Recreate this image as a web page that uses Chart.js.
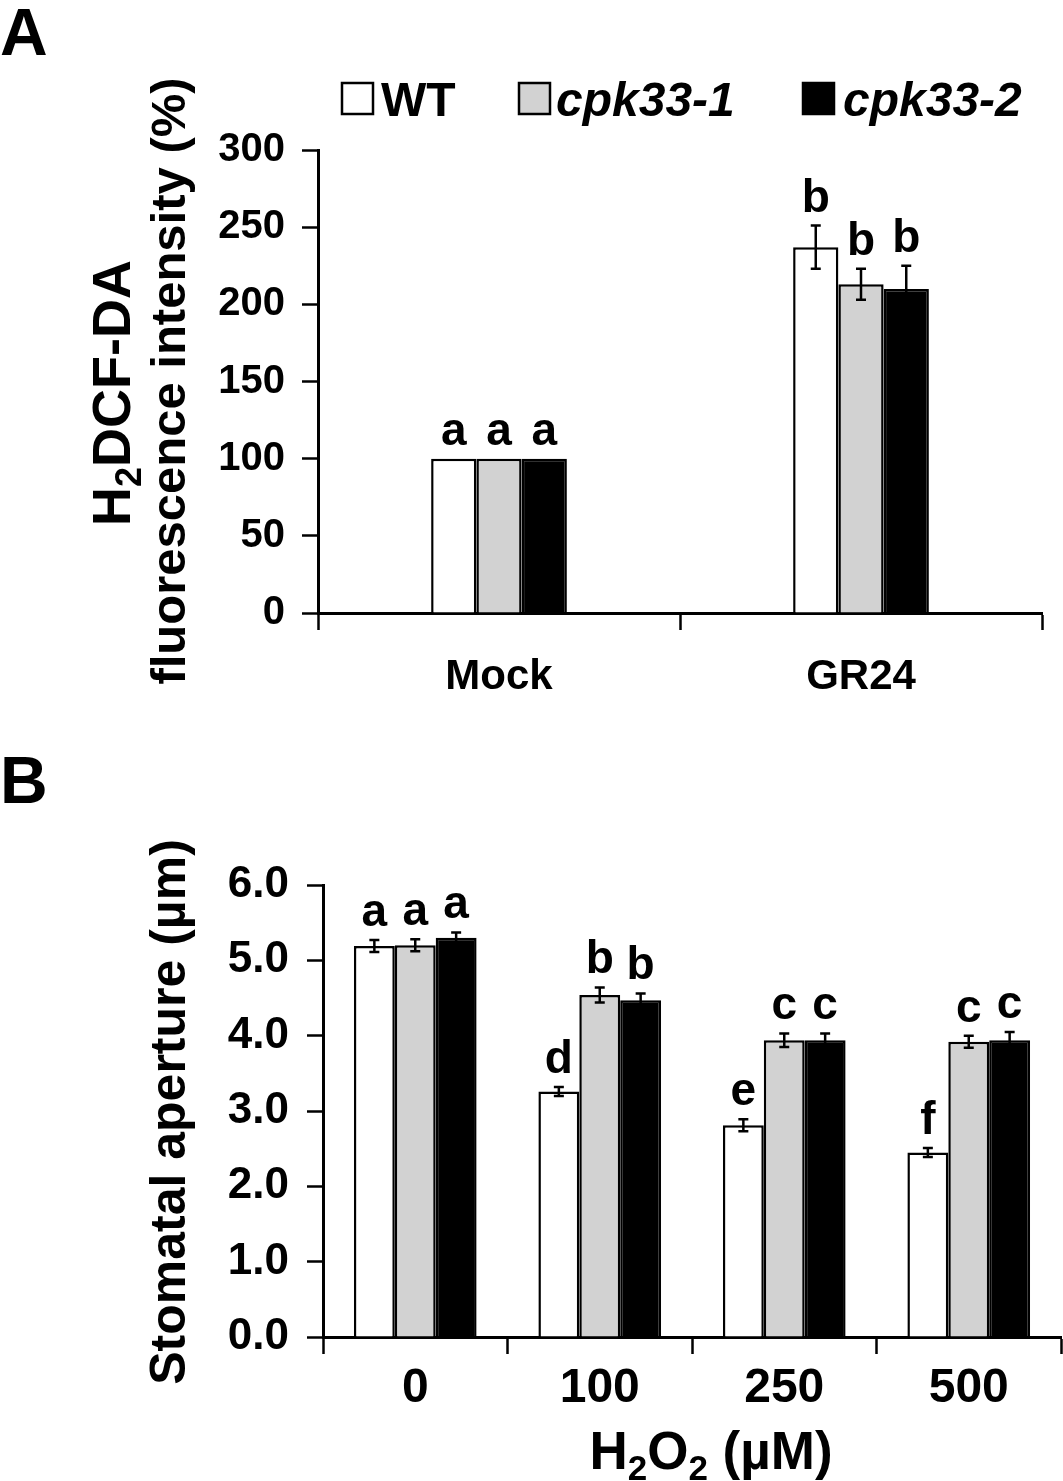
<!DOCTYPE html>
<html>
<head>
<meta charset="utf-8">
<script src="https://cdn.jsdelivr.net/npm/chart.js@4.4.1/dist/chart.umd.min.js"></script>
<style>
  html, body { margin: 0; padding: 0; background: #fff; }
  #wrap { position: relative; width: 1063px; height: 1481px; }
  canvas { position: absolute; left: 0; }
  #chartA { top: 0; }
  #chartB { top: 740px; }
</style>
</head>
<body>
<div id="wrap">
  <canvas id="chartA" width="1063" height="740"></canvas>
  <canvas id="chartB" width="1063" height="741"></canvas>
</div>
<script>
const FONT = "'Liberation Sans', Arial, sans-serif";

// Panel A: H2DCF-DA fluorescence (%)
const catsA = ['Mock', 'GR24'];
const wtA = [100, 237];
const cpk1A = [100, 213];
const cpk2A = [100, 210];
const wtErrA = [0, 14];
const cpk1ErrA = [0, 10];
const cpk2ErrA = [0, 15];
const wtLetA = ['a', 'b'];
const cpk1LetA = ['a', 'b'];
const cpk2LetA = ['a', 'b'];
const ticksA = [0, 50, 100, 150, 200, 250, 300];

// Panel B: stomatal aperture (µm)
const catsB = ['0', '100', '250', '500'];
const wtB = [5.19, 3.26, 2.81, 2.45];
const cpk1B = [5.20, 4.54, 3.94, 3.92];
const cpk2B = [5.30, 4.47, 3.94, 3.94];
const wtErrB = [0.08, 0.06, 0.08, 0.06];
const cpk1ErrB = [0.08, 0.10, 0.09, 0.08];
const cpk2ErrB = [0.07, 0.09, 0.09, 0.11];
const wtLetB = ['a', 'd', 'e', 'f'];
const cpk1LetB = ['a', 'b', 'c', 'c'];
const cpk2LetB = ['a', 'b', 'c', 'c'];
const ticksB = [0, 1, 2, 3, 4, 5, 6];

const seriesNames = ['WT', 'cpk33-1', 'cpk33-2'];
const fills = ['#ffffff', '#d2d2d2', '#000000'];

// text with subscripts, optionally rotated
function drawRich(ctx, parts, x, y, size, rotated) {
  ctx.save();
  ctx.translate(x, y);
  if (rotated) ctx.rotate(-Math.PI / 2);
  ctx.textBaseline = 'alphabetic';
  ctx.textAlign = 'left';
  ctx.fillStyle = '#000';
  const sub = Math.round(size * 0.66);
  let w = 0;
  parts.forEach(([t, s]) => {
    ctx.font = `bold ${s ? sub : size}px ${FONT}`;
    w += ctx.measureText(t).width;
  });
  let cx = -w / 2;
  parts.forEach(([t, s]) => {
    ctx.font = `bold ${s ? sub : size}px ${FONT}`;
    ctx.fillText(t, cx, s ? size * 0.2 : 0);
    cx += ctx.measureText(t).width;
  });
  ctx.restore();
}

const decor = {
  id: 'decor',
  afterDatasetsDraw(chart, args, opts) {
    const ctx = chart.ctx;
    const y = chart.scales.y;
    ctx.save();
    ctx.strokeStyle = '#000';
    ctx.fillStyle = '#000';
    ctx.lineWidth = 2.5;
    chart.data.datasets.forEach((ds, i) => {
      const meta = chart.getDatasetMeta(i);
      meta.data.forEach((bar, j) => {
        const v = ds.data[j];
        const e = opts.errors[i][j];
        const yt = y.getPixelForValue(v + e);
        if (e > 0) {
          const yb = y.getPixelForValue(v - e);
          ctx.beginPath();
          ctx.moveTo(bar.x, yt); ctx.lineTo(bar.x, yb);
          ctx.moveTo(bar.x - 5, yt); ctx.lineTo(bar.x + 5, yt);
          ctx.moveTo(bar.x - 5, yb); ctx.lineTo(bar.x + 5, yb);
          ctx.stroke();
        }
        ctx.font = `bold 46px ${FONT}`;
        ctx.textAlign = 'center';
        ctx.textBaseline = 'alphabetic';
        ctx.fillText(opts.letters[i][j], bar.x, yt - 14);
      });
    });

    opts.titles.forEach(t => drawRich(ctx, t.parts, t.x, t.y, t.size, t.rotated));

    ctx.font = `bold 66px ${FONT}`;
    ctx.textAlign = 'left';
    ctx.textBaseline = 'alphabetic';
    ctx.fillText(opts.panel.text, opts.panel.x, opts.panel.y);

    if (opts.legend) {
      const L = opts.legend;
      L.items.forEach((it, k) => {
        ctx.fillStyle = fills[k];
        ctx.fillRect(it.bx, L.top, L.box, L.box);
        ctx.strokeStyle = '#000';
        ctx.lineWidth = 2.5;
        ctx.strokeRect(it.bx, L.top, L.box, L.box);
        ctx.fillStyle = '#000';
        ctx.font = `${k === 0 ? '' : 'italic '}bold 48px ${FONT}`;
        ctx.textAlign = 'left';
        ctx.fillText(seriesNames[k], it.tx, L.baseline);
      });
    }
    ctx.restore();
  }
};

function makeDatasets(series, catPct) {
  return series.map((d, k) => ({
    label: seriesNames[k],
    data: d,
    backgroundColor: fills[k],
    borderColor: '#000',
    borderWidth: 2.5,
    categoryPercentage: catPct,
    barPercentage: 1
  }));
}

function axisOpts(yWidth, xHeight, yMax, step, tickFont, yPad, xFont, xPad, fmt) {
  return {
    x: {
      afterFit(s) { s.height = xHeight; },
      grid: { display: true, drawOnChartArea: false, drawTicks: true, tickLength: 17, tickWidth: 2.5, tickColor: '#000', offset: true },
      border: { display: true, color: '#000', width: 3 },
      ticks: { color: '#000', font: { family: FONT, size: xFont, weight: 'bold' }, padding: xPad, maxRotation: 0 }
    },
    y: {
      min: 0, max: yMax,
      afterFit(s) { s.width = yWidth; },
      grid: { display: true, drawOnChartArea: false, drawTicks: true, tickLength: 16, tickWidth: 2.5, tickColor: '#000' },
      border: { display: true, color: '#000', width: 3 },
      ticks: { stepSize: step, color: '#000', font: { family: FONT, size: tickFont, weight: 'bold' }, padding: yPad, callback: fmt }
    }
  };
}

new Chart(document.getElementById('chartA'), {
  type: 'bar',
  data: { labels: catsA, datasets: makeDatasets([wtA, cpk1A, cpk2A], 0.375) },
  options: {
    responsive: false,
    animation: false,
    devicePixelRatio: 1,
    layout: { padding: { top: 150, right: 21, left: 0, bottom: 0 } },
    scales: axisOpts(318, 127, ticksA[ticksA.length - 1], ticksA[1] - ticksA[0], 40, 17, 42, 22, v => v),
    plugins: {
      legend: { display: false },
      tooltip: { enabled: false },
      decor: {
        errors: [wtErrA, cpk1ErrA, cpk2ErrA],
        letters: [wtLetA, cpk1LetA, cpk2LetA],
        panel: { text: 'A', x: 0, y: 55 },
        titles: [
          { parts: [['H', 0], ['2', 1], ['DCF-DA', 0]], x: 130, y: 393, size: 54, rotated: true },
          { parts: [['fluorescence intensity (%)', 0]], x: 185, y: 381, size: 49, rotated: true }
        ],
        legend: {
          top: 83, box: 31, baseline: 116,
          items: [{ bx: 342, tx: 381 }, { bx: 519, tx: 556 }, { bx: 803, tx: 843 }]
        }
      }
    }
  },
  plugins: [decor]
});

new Chart(document.getElementById('chartB'), {
  type: 'bar',
  data: { labels: catsB, datasets: makeDatasets([wtB, cpk1B, cpk2B], 0.665) },
  options: {
    responsive: false,
    animation: false,
    devicePixelRatio: 1,
    layout: { padding: { top: 145, right: 2, left: 0, bottom: 0 } },
    scales: axisOpts(323, 144, ticksB[ticksB.length - 1], ticksB[1] - ticksB[0], 44, 18, 48, 6, v => Number(v).toFixed(1)),
    plugins: {
      legend: { display: false },
      tooltip: { enabled: false },
      decor: {
        errors: [wtErrB, cpk1ErrB, cpk2ErrB],
        letters: [wtLetB, cpk1LetB, cpk2LetB],
        panel: { text: 'B', x: 0, y: 63 },
        titles: [
          { parts: [['Stomatal aperture (µm)', 0]], x: 185, y: 372, size: 50, rotated: true },
          { parts: [['H', 0], ['2', 1], ['O', 0], ['2', 1], [' (µM)', 0]], x: 711, y: 729, size: 53, rotated: false }
        ]
      }
    }
  },
  plugins: [decor]
});
</script>
</body>
</html>
